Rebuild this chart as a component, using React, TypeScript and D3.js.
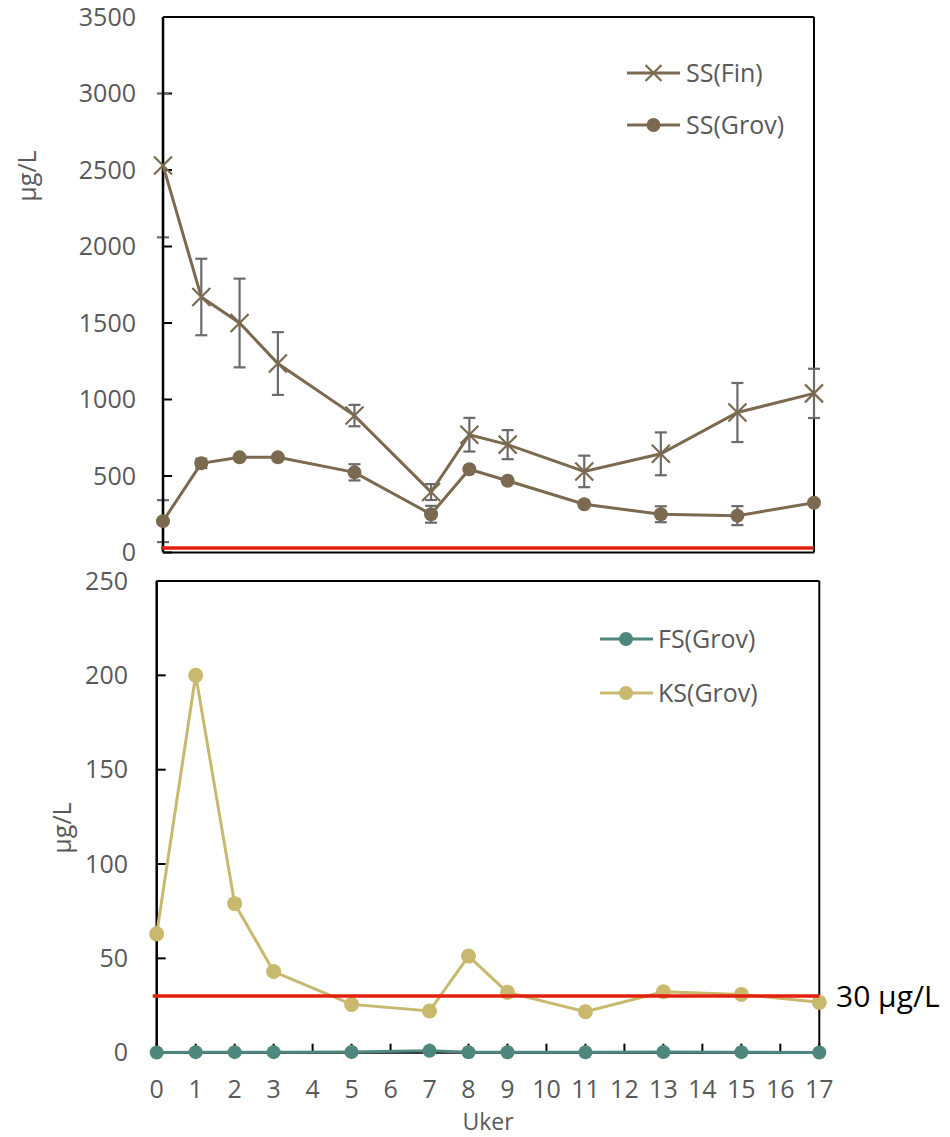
import React from "react";
import * as d3 from "d3";

// Sampling weeks
const weeks = [0, 1, 2, 3, 5, 7, 8, 9, 11, 13, 15, 17];

// Upper panel: suspended solids (µg/L) with standard deviations
const ssFin = [2530, 1670, 1500, 1235, 895, 395, 770, 705, 530, 645, 915, 1040];
const ssFinErr = [470, 250, 290, 205, 70, 52, 110, 95, 103, 140, 193, 161];
const ssGrov = [205, 583, 622, 622, 524, 250, 544, 469, 315, 250, 241, 325];
const ssGrovErr = [137, 30, 0, 0, 53, 55, 0, 0, 0, 52, 62, 0];

// Lower panel (µg/L)
const fsGrov = [0.1, 0.3, 0.3, 0.3, 0.4, 1.0, 0.2, 0.2, 0.2, 0.4, 0.3, 0.1];
const ksGrov = [63, 200, 79, 43, 25.6, 22.1, 51.2, 32, 21.7, 32.3, 30.9, 26.7];

const limitValue = 30;
const limitLabel = "30 µg/L";

const topTicks = [0, 500, 1000, 1500, 2000, 2500, 3000, 3500];
const bottomTicks = [0, 50, 100, 150, 200, 250];
const xTicks = d3.range(0, 18);

const BROWN = "#7B6A50";
const ERR = "#6B6B6B";
const TEAL = "#4E877E";
const KHAKI = "#C8B96E";
const RED = "#E2200C";
const TXT = "#595959";
const FONT = "'Open Sans', 'Noto Sans', sans-serif";

export default function App() {
  // panel scales
  const xTop = d3.scaleLinear().domain([0, 17]).range([163, 814]);
  const yTop = d3.scaleLinear().domain([0, 3500]).range([552.5, 17]);
  const xBot = d3.scaleLinear().domain([0, 17]).range([156.7, 819.3]);
  const yBot = d3.scaleLinear().domain([0, 250]).range([1052.7, 581]);

  const lineTop = (vals: number[]) =>
    d3.line<number>().x((_, i) => xTop(weeks[i])).y((v) => yTop(v))(vals) || "";
  const lineBot = (vals: number[]) =>
    d3.line<number>().x((_, i) => xBot(weeks[i])).y((v) => yBot(v))(vals) || "";

  const errBars = (vals: number[], errs: number[], key: string) =>
    vals.map((v, i) =>
      errs[i] > 0 ? (
        <g key={key + i} stroke={ERR} strokeWidth={2.2}>
          <line x1={xTop(weeks[i])} x2={xTop(weeks[i])} y1={yTop(v + errs[i])} y2={yTop(v - errs[i])} />
          <line x1={xTop(weeks[i]) - 6} x2={xTop(weeks[i]) + 6} y1={yTop(v + errs[i])} y2={yTop(v + errs[i])} />
          <line x1={xTop(weeks[i]) - 6} x2={xTop(weeks[i]) + 6} y1={yTop(v - errs[i])} y2={yTop(v - errs[i])} />
        </g>
      ) : null
    );

  const cross = (cx: number, cy: number, s: number, key: string) => (
    <path key={key} d={`M${cx - s},${cy - s}L${cx + s},${cy + s}M${cx - s},${cy + s}L${cx + s},${cy - s}`} stroke={BROWN} strokeWidth={2.2} fill="none" />
  );

  return (
    <svg width={950} height={1137} style={{ position: "absolute", left: 0, top: 0, background: "#fff" }} fontFamily={FONT}>
      {/* ---------- upper panel ---------- */}
      <g>
        {/* frame */}
        <line x1={xTop(0)} x2={xTop(17)} y1={17} y2={17} stroke="#000" strokeWidth={2} />
        <line x1={xTop(17)} x2={xTop(17)} y1={17} y2={yTop(0)} stroke="#000" strokeWidth={2} />
        <line x1={xTop(0)} x2={xTop(17)} y1={yTop(0)} y2={yTop(0)} stroke="#000" strokeWidth={2} />
        {/* y axis */}
        {topTicks.map((t) => (
          <g key={"tt" + t}>
            <line x1={xTop(0)} x2={xTop(0) + 9} y1={yTop(t)} y2={yTop(t)} stroke="#000" strokeWidth={2} />
            <text x={136} y={yTop(t)} dy="0.35em" textAnchor="end" fontSize={25} fill={TXT}>{t}</text>
          </g>
        ))}
        <text transform={`translate(27,176) rotate(-90)`} textAnchor="middle" dy="0.35em" fontSize={25} fill={TXT}>µg/L</text>

        {errBars(ssFin, ssFinErr, "ef")}
        {errBars(ssGrov, ssGrovErr, "eg")}
        <line x1={xTop(0)} x2={xTop(0)} y1={17} y2={yTop(0)} stroke="#000" strokeWidth={2.5} />
        {/* limit */}
        <line x1={xTop(0) - 2} x2={xTop(17)} y1={yTop(limitValue)} y2={yTop(limitValue)} stroke={RED} strokeWidth={3.5} />

        <path d={lineTop(ssFin)} fill="none" stroke={BROWN} strokeWidth={3} />
        {ssFin.map((v, i) => cross(xTop(weeks[i]), yTop(v), 9, "cf" + i))}
        <path d={lineTop(ssGrov)} fill="none" stroke={BROWN} strokeWidth={3} />
        {ssGrov.map((v, i) => (
          <circle key={"cg" + i} cx={xTop(weeks[i])} cy={yTop(v)} r={7} fill={BROWN} />
        ))}

        {/* legend */}
        <line x1={627} x2={680} y1={73} y2={73} stroke={BROWN} strokeWidth={3} />
        {cross(653.5, 73, 8, "lf")}
        <text x={686} y={73} dy="0.35em" fontSize={25} fill={TXT}>SS(Fin)</text>
        <line x1={627} x2={680} y1={125} y2={125} stroke={BROWN} strokeWidth={3} />
        <circle cx={653.5} cy={125} r={7} fill={BROWN} />
        <text x={686} y={125} dy="0.35em" fontSize={25} fill={TXT}>SS(Grov)</text>
      </g>

      {/* ---------- lower panel ---------- */}
      <g>
        <line x1={xBot(0)} x2={xBot(17)} y1={yBot(250)} y2={yBot(250)} stroke="#000" strokeWidth={2} />
        <line x1={xBot(17)} x2={xBot(17)} y1={yBot(250)} y2={yBot(0)} stroke="#000" strokeWidth={2} />
        <line x1={xBot(0)} x2={xBot(17)} y1={yBot(0)} y2={yBot(0)} stroke="#000" strokeWidth={2} />
        <line x1={xBot(0)} x2={xBot(0)} y1={yBot(250)} y2={yBot(0)} stroke="#000" strokeWidth={2.5} />
        {bottomTicks.map((t) => (
          <g key={"bt" + t}>
            <line x1={xBot(0)} x2={xBot(0) + 9} y1={yBot(t)} y2={yBot(t)} stroke="#000" strokeWidth={2} />
            <text x={128} y={yBot(t)} dy="0.35em" textAnchor="end" fontSize={25} fill={TXT}>{t}</text>
          </g>
        ))}
        {xTicks.map((t) => (
          <g key={"xt" + t}>
            <line x1={xBot(t)} x2={xBot(t)} y1={yBot(0)} y2={yBot(0) - 9} stroke="#000" strokeWidth={2} />
            <text x={xBot(t)} y={1089} dy="0.35em" textAnchor="middle" fontSize={25} fill={TXT}>{t}</text>
          </g>
        ))}
        <text x={488} y={1122} dy="0.35em" textAnchor="middle" fontSize={23} fill={TXT}>Uker</text>
        <text transform={`translate(62,828) rotate(-90)`} textAnchor="middle" dy="0.35em" fontSize={25} fill={TXT}>µg/L</text>

        <path d={lineBot(ksGrov)} fill="none" stroke={KHAKI} strokeWidth={3} />
        {ksGrov.map((v, i) => (
          <circle key={"ks" + i} cx={xBot(weeks[i])} cy={yBot(v)} r={7.5} fill={KHAKI} />
        ))}
        <line x1={xBot(0) - 4} x2={xBot(17)} y1={yBot(limitValue)} y2={yBot(limitValue)} stroke={RED} strokeWidth={3.5} />
        <text x={836} y={yBot(limitValue)} dy="0.35em" fontSize={30} fill="#000">{limitLabel}</text>

        <path d={lineBot(fsGrov)} fill="none" stroke={TEAL} strokeWidth={3} />
        {fsGrov.map((v, i) => (
          <circle key={"fs" + i} cx={xBot(weeks[i])} cy={yBot(v)} r={7} fill={TEAL} />
        ))}

        {/* legend */}
        <line x1={600} x2={653} y1={639} y2={639} stroke={TEAL} strokeWidth={3} />
        <circle cx={626} cy={639} r={7} fill={TEAL} />
        <text x={658} y={639} dy="0.35em" fontSize={25} fill={TXT}>FS(Grov)</text>
        <line x1={600} x2={653} y1={693} y2={693} stroke={KHAKI} strokeWidth={3} />
        <circle cx={626} cy={693} r={7} fill={KHAKI} />
        <text x={658} y={693} dy="0.35em" fontSize={25} fill={TXT}>KS(Grov)</text>
      </g>
    </svg>
  );
}
